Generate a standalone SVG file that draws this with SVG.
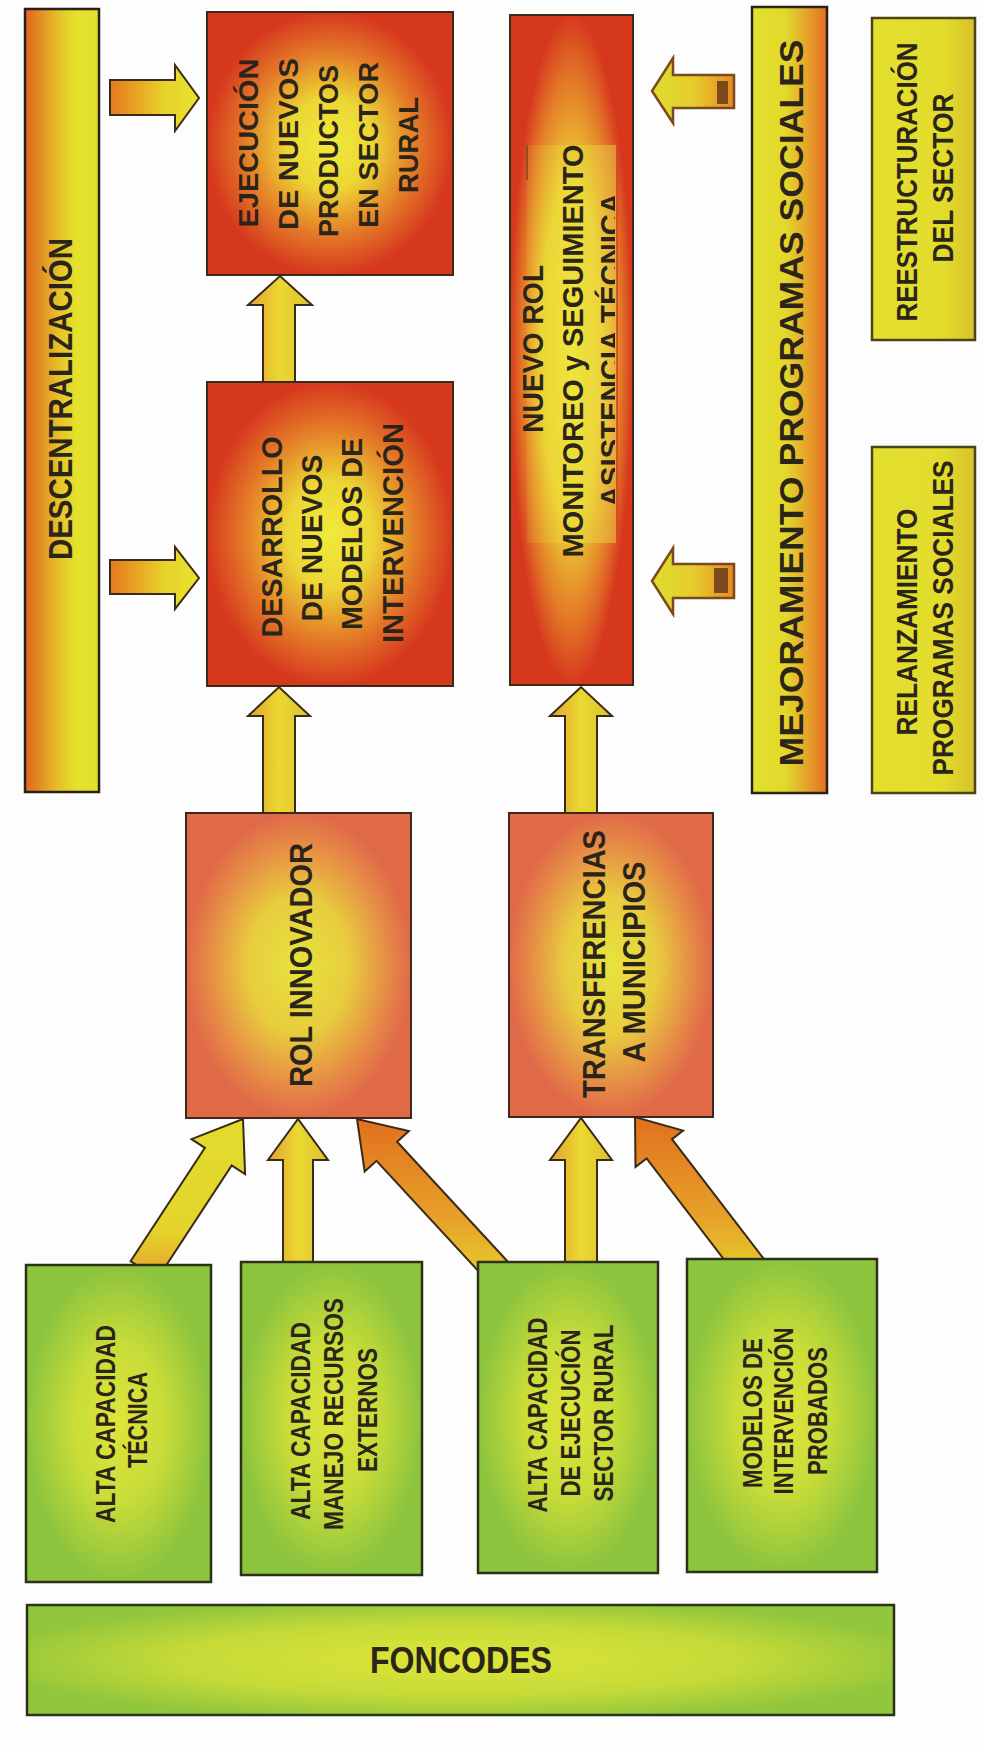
<svg xmlns="http://www.w3.org/2000/svg" width="984" height="1751" viewBox="0 0 984 1751">
<defs>
<style>
.t{font-family:"Liberation Sans",Arial,sans-serif;font-weight:bold;fill:#2a2419;text-anchor:middle;}
.box{stroke:#3a2a1c;stroke-width:2;}
.gbox{stroke:#2c3218;stroke-width:2.5;}
.bar{stroke:#2a2018;stroke-width:2.5;}
.ybox{stroke:#4a4418;stroke-width:2.5;}
.arr{stroke:#3a2a18;stroke-width:2;stroke-linejoin:miter;}
.larr{stroke:#7a4a1c;stroke-width:2.5;stroke-linejoin:miter;}
</style>
<radialGradient id="gRed" cx="0.5" cy="0.5" r="0.5">
<stop offset="0" stop-color="#f0ea3a"/>
<stop offset="0.35" stop-color="#ecd634"/>
<stop offset="0.7" stop-color="#e47a28"/>
<stop offset="1" stop-color="#d6381e"/>
</radialGradient>
<radialGradient id="gRedTall" cx="0.5" cy="0.5" r="0.5" fx="0.5" fy="0.5">
<stop offset="0" stop-color="#f0ea3a"/>
<stop offset="0.5" stop-color="#ecd634"/>
<stop offset="0.8" stop-color="#e47a28"/>
<stop offset="1" stop-color="#d6381e"/>
</radialGradient>
<linearGradient id="gOver" x1="0" y1="0" x2="1" y2="0">
<stop offset="0" stop-color="#e8c83a" stop-opacity="0.15"/>
<stop offset="0.5" stop-color="#ece03c" stop-opacity="0.45"/>
<stop offset="1" stop-color="#ecc84a" stop-opacity="0.55"/>
</linearGradient>
<radialGradient id="gOr" cx="0.5" cy="0.5" r="0.5">
<stop offset="0" stop-color="#e6e43c"/>
<stop offset="0.45" stop-color="#e8cc3e"/>
<stop offset="0.8" stop-color="#e68a46"/>
<stop offset="1" stop-color="#e06a48"/>
</radialGradient>
<radialGradient id="gGr" cx="0.5" cy="0.5" r="0.5">
<stop offset="0" stop-color="#dfe53a"/>
<stop offset="0.5" stop-color="#c8dc38"/>
<stop offset="1" stop-color="#8cc43e"/>
</radialGradient>
<radialGradient id="gFon" cx="0.5" cy="0.5" r="0.55">
<stop offset="0" stop-color="#dfe538"/>
<stop offset="0.6" stop-color="#c4da38"/>
<stop offset="1" stop-color="#92c63c"/>
</radialGradient>
<linearGradient id="gDesc" x1="0" y1="0" x2="1" y2="0">
<stop offset="0" stop-color="#e06420"/>
<stop offset="0.45" stop-color="#e6c02a"/>
<stop offset="0.7" stop-color="#e6e22c"/>
<stop offset="1" stop-color="#e2e02c"/>
</linearGradient>
<linearGradient id="gMej" x1="0" y1="0" x2="1" y2="0">
<stop offset="0" stop-color="#e2e22c"/>
<stop offset="0.45" stop-color="#e2d82c"/>
<stop offset="0.75" stop-color="#e6a02a"/>
<stop offset="1" stop-color="#e46c22"/>
</linearGradient>
<linearGradient id="gRee" x1="0" y1="0" x2="1" y2="0">
<stop offset="0" stop-color="#e4e02e"/>
<stop offset="0.7" stop-color="#e2dc2c"/>
<stop offset="1" stop-color="#d8c02a"/>
</linearGradient>
<linearGradient id="gArrR" x1="0" y1="0" x2="1" y2="0">
<stop offset="0" stop-color="#e6781e"/>
<stop offset="0.6" stop-color="#e8d22a"/>
<stop offset="1" stop-color="#e6e42e"/>
</linearGradient>
<linearGradient id="gArrL" x1="0" y1="0" x2="1" y2="0">
<stop offset="0" stop-color="#dede30"/>
<stop offset="0.5" stop-color="#e6cc2c"/>
<stop offset="1" stop-color="#e88a22"/>
</linearGradient>
<linearGradient id="gArrUp" x1="0" y1="0" x2="1" y2="0">
<stop offset="0" stop-color="#e6a030"/>
<stop offset="0.5" stop-color="#ead832"/>
<stop offset="1" stop-color="#dcc02e"/>
</linearGradient>
<linearGradient id="gDiagY" x1="0" y1="0" x2="0" y2="1">
<stop offset="0" stop-color="#e2dc2c"/>
<stop offset="0.7" stop-color="#e4d42c"/>
<stop offset="1" stop-color="#e6a02a"/>
</linearGradient>
<linearGradient id="gDiagO" x1="0" y1="0" x2="0" y2="1">
<stop offset="0" stop-color="#e2701e"/>
<stop offset="0.6" stop-color="#e6a028"/>
<stop offset="1" stop-color="#e6d02c"/>
</linearGradient>
<clipPath id="clipAsis"><rect x="500" y="140" width="115" height="410"/></clipPath>
</defs>
<rect x="0" y="0" width="984" height="1751" fill="#fdfdfd"/>

<g id="connectors">
<polygon class="arr" fill="url(#gArrR)" points="110,80 175,80 175,65 199,98 175,131 175,115 110,115"/>
<polygon class="arr" fill="url(#gArrR)" points="110,560 175,560 175,547 199,578 175,609 175,594 110,594"/>
<polygon class="arr" fill="url(#gArrUp)" points="263,386 263,305 248,305 280,276 312,305 295,305 295,386"/>
<polygon class="arr" fill="url(#gArrUp)" points="263,818 263,716 248,716 279,687 310,716 295,716 295,818"/>
<polygon class="arr" fill="url(#gArrUp)" points="565,818 565,716 550,716 581,687 612,716 597,716 597,818"/>
<polygon class="larr" fill="url(#gArrL)" points="734,75 673,75 673,58 652,91 673,123 673,108 734,108"/>
<rect x="717" y="81" width="11" height="23" fill="#7a4a1c"/>
<polygon class="larr" fill="url(#gArrL)" points="734,564 673,564 673,548 652,581 673,614 673,598 734,598"/>
<rect x="714" y="568" width="14" height="25" fill="#7a4a1c"/>
<polygon class="arr" fill="url(#gDiagY)" points="157.4,1278.8 231.7,1165.4 245.1,1174.1 243,1119 191.5,1139.1 204.9,1147.8 130.6,1261.2"/>
<polygon class="arr" fill="url(#gArrUp)" points="283,1268 283,1160 268,1160 298,1119 328,1160 313,1160 313,1268"/>
<polygon class="arr" fill="url(#gDiagO)" points="509.5,1263.5 397.1,1141.8 408.9,1131 357,1119 364.7,1171.6 376.5,1160.8 488.9,1282.5"/>
<polygon class="arr" fill="url(#gArrUp)" points="565,1268 565,1160 550,1160 581,1118 612,1160 597,1160 597,1268"/>
<polygon class="arr" fill="url(#gDiagO)" points="764.8,1260.2 672,1139.1 683.1,1130.6 635,1117 635.5,1167 646.6,1158.5 739.4,1279.6"/>
</g>

<g id="descentralizacion">
<rect class="bar" x="25" y="9" width="74" height="783" fill="url(#gDesc)"/>
<text class="t" font-size="33" textLength="322" lengthAdjust="spacingAndGlyphs" transform="translate(72,399) rotate(-90)">DESCENTRALIZACIÓN</text>
</g>

<g id="ejecucion">
<rect class="box" x="207" y="12" width="246" height="263" fill="url(#gRed)"/>
<text class="t" font-size="27" textLength="169" lengthAdjust="spacingAndGlyphs" transform="translate(258,143) rotate(-90)">EJECUCIÓN</text>
<text class="t" font-size="27" textLength="172" lengthAdjust="spacingAndGlyphs" transform="translate(298,144) rotate(-90)">DE NUEVOS</text>
<text class="t" font-size="27" textLength="172" lengthAdjust="spacingAndGlyphs" transform="translate(338,151) rotate(-90)">PRODUCTOS</text>
<text class="t" font-size="27" textLength="166" lengthAdjust="spacingAndGlyphs" transform="translate(378,145) rotate(-90)">EN SECTOR</text>
<text class="t" font-size="27" textLength="96" lengthAdjust="spacingAndGlyphs" transform="translate(418,145) rotate(-90)">RURAL</text>
</g>

<g id="desarrollo">
<rect class="box" x="207" y="382" width="246" height="304" fill="url(#gRed)"/>
<text class="t" font-size="30" textLength="201" lengthAdjust="spacingAndGlyphs" transform="translate(282,537) rotate(-90)">DESARROLLO</text>
<text class="t" font-size="30" textLength="167" lengthAdjust="spacingAndGlyphs" transform="translate(322,538) rotate(-90)">DE NUEVOS</text>
<text class="t" font-size="30" textLength="192" lengthAdjust="spacingAndGlyphs" transform="translate(362,534) rotate(-90)">MODELOS DE</text>
<text class="t" font-size="30" textLength="220" lengthAdjust="spacingAndGlyphs" transform="translate(403,533) rotate(-90)">INTERVENCIÓN</text>
</g>

<g id="nuevo-rol">
<rect class="box" x="510" y="15" width="123" height="670" fill="url(#gRedTall)"/>
<rect x="527" y="145" width="90" height="398" fill="url(#gOver)"/>
<line x1="617" y1="145" x2="617" y2="543" stroke="#c8401c" stroke-width="1.5"/>
<line x1="527" y1="145" x2="527" y2="180" stroke="#5a3a1a" stroke-width="1"/>
<text class="t" font-size="30" textLength="168" lengthAdjust="spacingAndGlyphs" transform="translate(543,349) rotate(-90)">NUEVO ROL</text>
<text class="t" font-size="30" textLength="413" lengthAdjust="spacingAndGlyphs" transform="translate(583,351) rotate(-90)">MONITOREO y SEGUIMIENTO</text>
<g clip-path="url(#clipAsis)">
<text class="t" font-size="30" textLength="314" lengthAdjust="spacingAndGlyphs" transform="translate(621,350) rotate(-90)">ASISTENCIA TÉCNICA</text>
</g>
</g>

<g id="mejoramiento">
<rect class="bar" x="752" y="7" width="75" height="786" fill="url(#gMej)"/>
<text class="t" font-size="34" textLength="727" lengthAdjust="spacingAndGlyphs" transform="translate(803,403) rotate(-90)">MEJORAMIENTO PROGRAMAS SOCIALES</text>
</g>

<g id="reestructuracion">
<rect class="ybox" x="872" y="18" width="103" height="322" fill="url(#gRee)"/>
<text class="t" font-size="30" textLength="279" lengthAdjust="spacingAndGlyphs" transform="translate(917,182) rotate(-90)">REESTRUCTURACIÓN</text>
<text class="t" font-size="30" textLength="169" lengthAdjust="spacingAndGlyphs" transform="translate(953,178) rotate(-90)">DEL SECTOR</text>
</g>

<g id="relanzamiento">
<rect class="ybox" x="872" y="447" width="103" height="346" fill="url(#gRee)"/>
<text class="t" font-size="30" textLength="227" lengthAdjust="spacingAndGlyphs" transform="translate(917,622) rotate(-90)">RELANZAMIENTO</text>
<text class="t" font-size="30" textLength="315" lengthAdjust="spacingAndGlyphs" transform="translate(953,618) rotate(-90)">PROGRAMAS SOCIALES</text>
</g>

<g id="rol-innovador">
<rect class="box" x="186" y="813" width="225" height="305" fill="url(#gOr)"/>
<text class="t" font-size="32" textLength="244" lengthAdjust="spacingAndGlyphs" transform="translate(312,965) rotate(-90)">ROL INNOVADOR</text>
</g>

<g id="transferencias">
<rect class="box" x="509" y="813" width="204" height="304" fill="url(#gOr)"/>
<text class="t" font-size="32" textLength="268" lengthAdjust="spacingAndGlyphs" transform="translate(605,964) rotate(-90)">TRANSFERENCIAS</text>
<text class="t" font-size="32" textLength="201" lengthAdjust="spacingAndGlyphs" transform="translate(645,962) rotate(-90)">A MUNICIPIOS</text>
</g>

<g id="alta-capacidad-tecnica">
<rect class="gbox" x="26" y="1265" width="185" height="317" fill="url(#gGr)"/>
<text class="t" font-size="28" textLength="198" lengthAdjust="spacingAndGlyphs" transform="translate(115,1424) rotate(-90)">ALTA CAPACIDAD</text>
<text class="t" font-size="28" textLength="96" lengthAdjust="spacingAndGlyphs" transform="translate(147,1420) rotate(-90)">TÉCNICA</text>
</g>

<g id="alta-capacidad-manejo">
<rect class="gbox" x="241" y="1262" width="181" height="313" fill="url(#gGr)"/>
<text class="t" font-size="28" textLength="198" lengthAdjust="spacingAndGlyphs" transform="translate(310,1421) rotate(-90)">ALTA CAPACIDAD</text>
<text class="t" font-size="28" textLength="232" lengthAdjust="spacingAndGlyphs" transform="translate(343,1414) rotate(-90)">MANEJO RECURSOS</text>
<text class="t" font-size="28" textLength="124" lengthAdjust="spacingAndGlyphs" transform="translate(377,1410) rotate(-90)">EXTERNOS</text>
</g>

<g id="alta-capacidad-ejecucion">
<rect class="gbox" x="478" y="1262" width="180" height="311" fill="url(#gGr)"/>
<text class="t" font-size="28" textLength="195" lengthAdjust="spacingAndGlyphs" transform="translate(547,1415) rotate(-90)">ALTA CAPACIDAD</text>
<text class="t" font-size="28" textLength="167" lengthAdjust="spacingAndGlyphs" transform="translate(580,1413) rotate(-90)">DE EJECUCIÓN</text>
<text class="t" font-size="28" textLength="177" lengthAdjust="spacingAndGlyphs" transform="translate(613,1413) rotate(-90)">SECTOR RURAL</text>
</g>

<g id="modelos-intervencion">
<rect class="gbox" x="687" y="1259" width="190" height="313" fill="url(#gGr)"/>
<text class="t" font-size="28" textLength="150" lengthAdjust="spacingAndGlyphs" transform="translate(762,1413) rotate(-90)">MODELOS DE</text>
<text class="t" font-size="28" textLength="167" lengthAdjust="spacingAndGlyphs" transform="translate(793,1411) rotate(-90)">INTERVENCIÓN</text>
<text class="t" font-size="28" textLength="128" lengthAdjust="spacingAndGlyphs" transform="translate(827,1411) rotate(-90)">PROBADOS</text>
</g>

<g id="foncodes">
<rect class="gbox" x="27" y="1605" width="867" height="110" fill="url(#gFon)"/>
<text class="t" font-size="36" textLength="182" lengthAdjust="spacingAndGlyphs" x="461" y="1673">FONCODES</text>
</g>
</svg>
